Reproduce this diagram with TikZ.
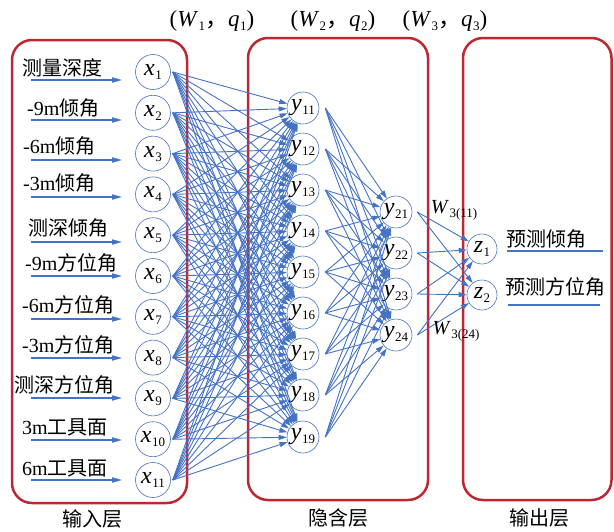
\documentclass[tikz,border=0pt]{standalone}
\usepackage{fontspec}
\setmainfont{Liberation Serif}
\newfontfamily\cjk{Noto Sans CJK SC}
\usetikzlibrary{arrows.meta}
\definecolor{lineblue}{RGB}{68,114,196}
\definecolor{boxred}{RGB}{188,39,50}
\newcommand{\nv}[2]{\textit{#1}\kern0.5pt\raisebox{-4pt}{\fontsize{13}{13}\selectfont #2}}

\begin{document}
\begin{tikzpicture}[x=1pt,y=-1pt,
  neuron/.style={circle,draw=lineblue,line width=0.6pt,minimum size=35pt,inner sep=0pt,font=\fontsize{24}{24}\selectfont},
  link/.style={-{Triangle[length=8pt,width=5pt]},lineblue,line width=0.9pt},
  inarrow/.style={-{Triangle[length=10pt,width=5pt]},lineblue,line width=1.6pt},
  uline/.style={lineblue,line width=1.6pt},
  layerbox/.style={draw=boxred,line width=2.5pt,rounded corners=20pt},
  txt/.style={font=\fontsize{20}{20}\selectfont,inner sep=0pt},
  cn/.style={font=\fontsize{20}{20}\selectfont\cjk,inner sep=0pt}]
\useasboundingbox (0,0) rectangle (614,531);

% layer boxes
\draw[layerbox] (12,40) rectangle (187,503);
\draw[layerbox] (248,38) rectangle (428,500);
\draw[layerbox] (463,38) rectangle (611.5,500);

% neurons
\foreach \i/\yy in {1/72,2/112.8,3/153.6,4/194.4,5/235.2,6/276,7/316.8,8/357.6,9/398.4,10/439.2,11/480}
  \node[neuron] (x\i) at (153,\yy) {\nv{x}{\i}};
\foreach \j/\yy in {1/108,2/149,3/190,4/231,5/272,6/313,7/354,8/395,9/437}
  \node[neuron,minimum size=32pt] (y1\j) at (303,\yy) {\nv{y}{1\j}};
\foreach \k/\yy in {1/212,2/253,3/294,4/335}
  \node[neuron,minimum size=32pt] (y2\k) at (396,\yy) {\nv{y}{2\k}};
\node[neuron,minimum size=30pt] (z1) at (482,249) {\nv{z}{1}};
\node[neuron,minimum size=30pt] (z2) at (482,295) {\nv{z}{2}};

% weights
\foreach \i in {1,...,11}
  \foreach \j in {1,...,9}
    \draw[link] ([xshift=2pt]x\i.east) -- (y1\j);
\foreach \j in {1,...,9}
  \foreach \k in {1,...,4}
    \draw[link] ([xshift=6pt]y1\j.east) -- (y2\k);
\foreach \k in {1,...,4}
  \foreach \l in {1,2}
    \draw[link] ([xshift=5pt]y2\k.east) -- (z\l);

% inputs
\foreach \i/\ay in {1/80,2/120,3/160,4/197,5/242,6/276,7/319,8/358,9/398,10/440,11/480}{
  \coordinate (a\i) at (31,\ay);
  \draw[inarrow,shorten >=13pt] (a\i) -- (a\i -| x\i.west);
}
\node[cn,anchor=base west] (in1) at (22,75) {测量深度};
\node[txt,anchor=base west] (in2) at (27,115) {-9m{\cjk 倾角}};
\node[txt,anchor=base west] (in3) at (23,153) {-6m{\cjk 倾角}};
\node[txt,anchor=base west] (in4) at (23,190) {-3m{\cjk 倾角}};
\node[cn,anchor=base west] (in5) at (28,235) {测深倾角};
\node[txt,anchor=base west] (in6) at (25,270) {-9m{\cjk 方位角}};
\node[txt,anchor=base west] (in7) at (22,312) {-6m{\cjk 方位角}};
\node[txt,anchor=base west] (in8) at (22,352) {-3m{\cjk 方位角}};
\node[cn,anchor=base west] (in9) at (14,392) {测深方位角};
\node[txt,anchor=base west] (in10) at (22,434) {3m{\cjk 工具面}};
\node[txt,anchor=base west] (in11) at (22,475) {6m{\cjk 工具面}};

% outputs
\node[cn,anchor=base west] (out1) at (506,246) {预测倾角};
\node[cn,anchor=base west] (out2) at (505,294) {预测方位角};
\coordinate (u1) at (507,251);
\coordinate (u2) at (508,305);
\draw[uline] (u1) -- ++(96,0);
\draw[uline] (u2) -- ++(92,0);

% weight labels
\node[txt,font=\fontsize{23}{23}\selectfont] (w1) at (212,21) {(\nv{W}{1}{\cjk ，}\nv{q}{1})};
\node[txt,font=\fontsize{23}{23}\selectfont] (w2) at (333,21) {(\nv{W}{2}{\cjk ，}\nv{q}{2})};
\node[txt,font=\fontsize{23}{23}\selectfont] (w3) at (445,21) {(\nv{W}{3}{\cjk ，}\nv{q}{3})};
\node[txt] (w311) at (454,210) {\nv{W}{3(11)}};
\node[txt] (w324) at (456,331) {\nv{W}{3(24)}};

% layer names
\node[cn] (l1) at (92,519) {输入层};
\node[cn] (l2) at (338,518) {隐含层};
\node[cn] (l3) at (539,518) {输出层};
\end{tikzpicture}
\end{document}
